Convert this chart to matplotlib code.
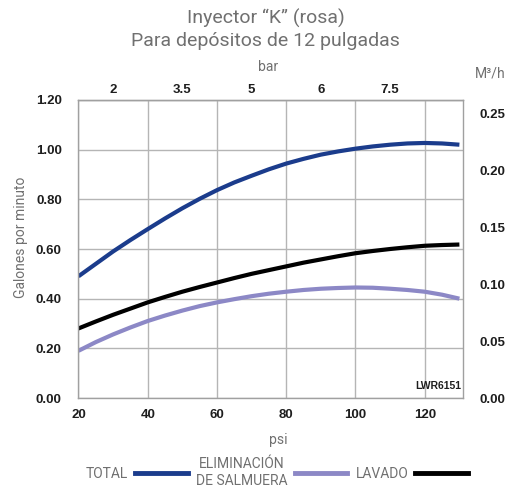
import matplotlib.pyplot as plt
from matplotlib.lines import Line2D

# pressure (psi) and flow (gallons per minute)
psi = [20, 25, 30, 35, 40, 45, 50, 55, 60, 65, 70, 75, 80, 85, 90, 95, 100, 105, 110, 115, 120, 125, 130]
total = [0.49, 0.54, 0.59, 0.636, 0.68, 0.723, 0.764, 0.802, 0.837, 0.868, 0.895, 0.921,
         0.944, 0.963, 0.98, 0.993, 1.004, 1.013, 1.02, 1.025, 1.027, 1.025, 1.02]
salmuera = [0.19, 0.225, 0.256, 0.284, 0.31, 0.332, 0.352, 0.37, 0.385, 0.398, 0.41, 0.42,
            0.428, 0.435, 0.44, 0.443, 0.445, 0.444, 0.44, 0.435, 0.428, 0.416, 0.40]
lavado = [0.28, 0.308, 0.335, 0.36, 0.385, 0.407, 0.428, 0.447, 0.465, 0.483, 0.50, 0.515,
          0.53, 0.545, 0.558, 0.571, 0.583, 0.592, 0.60, 0.607, 0.613, 0.616, 0.618]

bar_pos = [30, 50, 70, 90, 110]
bar_labels = ["2", "3.5", "5", "6", "7.5"]
m3h_ticks = [0.00, 0.05, 0.10, 0.15, 0.20, 0.25]

C_TOTAL = "#1b3c8c"
C_SALM = "#8c88c6"
C_LAV = "#000000"
GRAY = "#707070"

fig = plt.figure(figsize=(5.16, 4.99), dpi=100)
ax = fig.add_axes([0.152, 0.2024, 0.745, 0.5972])

ax.plot(psi, total, color=C_TOTAL, lw=3.0, solid_capstyle="butt", solid_joinstyle="round")
ax.plot(psi, salmuera, color=C_SALM, lw=3.0, solid_capstyle="butt", solid_joinstyle="round")
ax.plot(psi, lavado, color=C_LAV, lw=3.0, solid_capstyle="butt", solid_joinstyle="round")

ax.set_xlim(20, 131)
ax.set_ylim(0, 1.2)
ax.set_xticks([20, 40, 60, 80, 100, 120])
ax.set_yticks([0, 0.2, 0.4, 0.6, 0.8, 1.0, 1.2])
ax.set_yticklabels([f"{v:.2f}" for v in ax.get_yticks()])
ax.grid(True, color="#b5b5b5", lw=1.0)
ax.set_axisbelow(True)
for s in ax.spines.values():
    s.set_color("#a0a0a0")
    s.set_linewidth(1.0)

tick_font = dict(family="Liberation Sans", weight="bold", size=9.5)
ax.tick_params(length=0, pad=8, labelcolor="#1e1e1e")
for lbl in ax.get_xticklabels() + ax.get_yticklabels():
    lbl.set_fontproperties(tick_font)
ax.tick_params(axis="y", pad=12)

# bar scale on top
top = ax.secondary_xaxis("top")
top.set_xticks(bar_pos)
top.set_xticklabels(bar_labels)
top.tick_params(length=0, pad=3, labelcolor="#1e1e1e")
for lbl in top.get_xticklabels():
    lbl.set_fontproperties(tick_font)

# m3/h scale on the right
right = ax.twinx()
right.set_ylim(0, 0.262)
right.set_yticks(m3h_ticks)
right.set_yticklabels([f"{v:.2f}" for v in m3h_ticks])
right.tick_params(length=0, pad=12, labelcolor="#1e1e1e")
for lbl in right.get_yticklabels():
    lbl.set_fontproperties(tick_font)
for s in right.spines.values():
    s.set_visible(False)

ax.text(0.995, 0.025, "LWR6151", transform=ax.transAxes, ha="right", va="bottom",
        family="Liberation Sans", weight="bold", size=7.5, color="#1e1e1e")

txt = dict(family="Roboto", weight="normal", color=GRAY)
fig.text(0.515, 0.964, "Inyector \u201cK\u201d (rosa)", ha="center", va="center", size=14, **txt)
fig.text(0.515, 0.918, "Para depósitos de 12 pulgadas", ha="center", va="center", size=14, **txt)
fig.text(0.52, 0.866, "bar", ha="center", va="center", size=10, **txt)
fig.text(0.95, 0.852, "M\u00b3/h", ha="center", va="center", size=10, **txt)
fig.text(0.54, 0.118, "psi", ha="center", va="center", size=10, **txt)
fig.text(0.04, 0.525, "Galones por minuto", ha="center", va="center", rotation=90, size=10, **txt)

handles = [Line2D([], [], color=C_TOTAL, lw=3.5),
           Line2D([], [], color=C_SALM, lw=3.5),
           Line2D([], [], color=C_LAV, lw=3.5)]
leg = fig.legend(handles, ["TOTAL", "ELIMINACIÓN\nDE SALMUERA", "LAVADO"],
                 loc="center", bbox_to_anchor=(0.537, 0.053), ncol=3, frameon=False,
                 markerfirst=False, handlelength=3.8, handletextpad=0.5, columnspacing=0.6,
                 prop=dict(family="Roboto", weight="normal", size=10))
for t in leg.get_texts():
    t.set_color(GRAY)
    t.set_ha("center")

fig.savefig("out.png", dpi=100)
